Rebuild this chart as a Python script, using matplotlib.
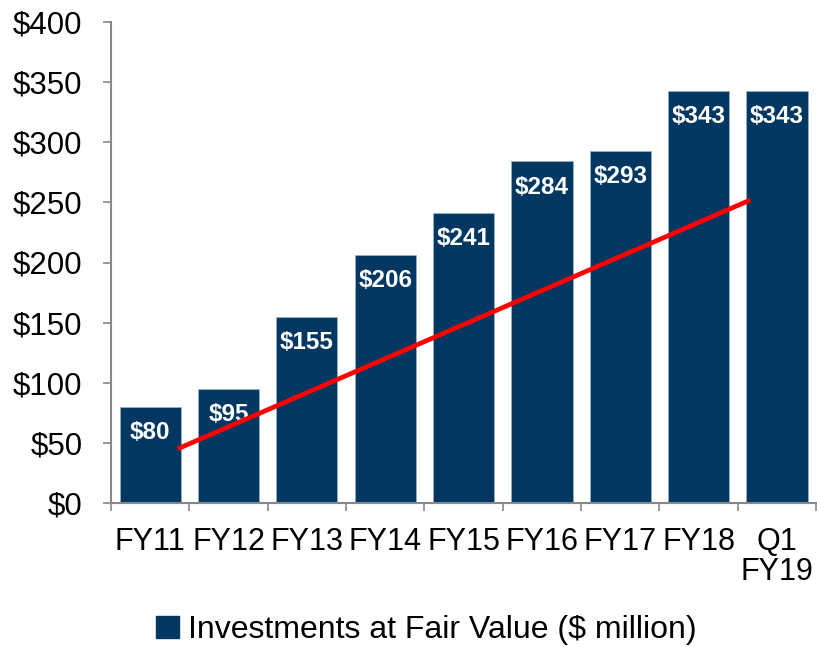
import matplotlib
matplotlib.use("Agg")
import matplotlib.pyplot as plt
from matplotlib.patches import Patch
import numpy as np

categories = ["FY11", "FY12", "FY13", "FY14", "FY15", "FY16", "FY17", "FY18", "Q1\nFY19"]
values = [80, 95, 155, 206, 241, 284, 293, 343, 343]
trend_x = [0.35, 7.66]
trend_y = [45, 252]
yticks = [0, 50, 100, 150, 200, 250, 300, 350, 400]
legend_label = "Investments at Fair Value ($ million)"

bar_color = "#023761"
plt.rcParams['font.family'] = ['Liberation Sans', 'DejaVu Sans']

fig = plt.figure(figsize=(8.17, 6.47), dpi=100)
ax = fig.add_axes([111/817, (647-503)/647, 1 - 111/817 - 0.001, (503-22)/647])

x = np.arange(len(categories))
bars = ax.bar(x, values, width=0.78, color=bar_color, edgecolor="#9fb3c8", linewidth=0.5, zorder=2)
for xi, v in zip(x, values):
    ax.annotate(f"${v}", (xi, v), xytext=(0, -18.5), textcoords="offset points",
                ha="center", va="center", color="white", fontsize=17.5, fontweight="bold", zorder=3)

ax.plot(trend_x, trend_y, color="#FF0000", lw=3.4, solid_capstyle="butt", zorder=4)

ax.set_xlim(-0.5, len(categories) - 0.5)
ax.set_ylim(0, 400)
ax.set_yticks(yticks)
ax.set_yticklabels([f"${t}" for t in yticks], fontsize=22.5)
ax.set_xticks(x)
ax.set_xticklabels(categories, fontsize=22, linespacing=1.0)
ax.set_xticks(np.arange(-0.5, len(categories), 1), minor=True)
ax.tick_params(axis="x", which="major", length=0, pad=17)
ax.tick_params(axis="x", which="minor", length=6, width=1.2, color="#888888", direction="out")
ax.tick_params(axis="y", length=6, width=1.2, color="#888888", pad=14.5)

for s in ["top", "right"]:
    ax.spines[s].set_visible(False)
for s in ["left", "bottom"]:
    ax.spines[s].set_color("#888888")
    ax.spines[s].set_linewidth(1.5)

handle = Patch(facecolor=bar_color, edgecolor=bar_color)
fig.legend([handle], [legend_label], loc="center", bbox_to_anchor=(0.522, 1 - 630/647),
           frameon=False, fontsize=23, handlelength=0.7, handleheight=0.7, handletextpad=0.3)

fig.savefig("out.png", dpi=100)
